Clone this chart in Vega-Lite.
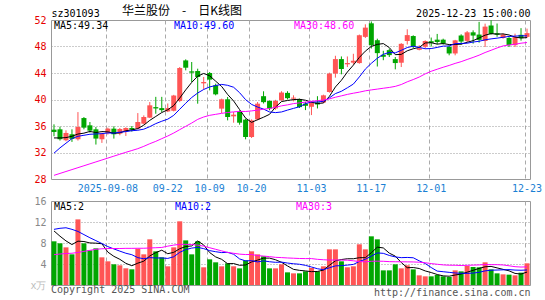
{
"$schema": "https://vega.github.io/schema/vega-lite/v6.json",
"background": "white",
"padding": {"left": 29, "top": 4, "right": 0, "bottom": 0},
"spacing": 1,
"config": {"view": {"stroke": "#999999", "strokeWidth": 1}, "font": "DejaVu Sans Mono"},
"resolve": {"scale": {"color": "independent"}, "legend": {"color": "independent"}},
"datasets": {"k": [
{"d":"2025-08-26","o":35.45,"h":36.25,"l":34.45,"c":35.1,"v":8.32,"m5":34.2,"m10":31.9,"m30":28.55,"vm5":10.3,"vm10":10.6,"vm30":5.78},
{"d":"2025-08-27","o":35.5,"h":35.9,"l":33.8,"c":34.0,"v":7.94,"m5":34.2,"m10":32.7,"m30":28.84,"vm5":9.3,"vm10":10.8,"vm30":5.9},
{"d":"2025-08-28","o":33.85,"h":35.35,"l":33.7,"c":34.95,"v":7.17,"m5":34.25,"m10":33.4,"m30":29.13,"vm5":8.4,"vm10":10.9,"vm30":6.0},
{"d":"2025-08-29","o":34.75,"h":35.5,"l":33.6,"c":34.05,"v":5.84,"m5":34.45,"m10":34.1,"m30":29.42,"vm5":7.7,"vm10":10.6,"vm30":6.05},
{"d":"2025-09-01","o":34.0,"h":38.1,"l":33.8,"c":35.85,"v":12.5,"m5":34.79,"m10":34.45,"m30":29.71,"vm5":8.35,"vm10":10.2,"vm30":6.2},
{"d":"2025-09-02","o":37.2,"h":37.35,"l":35.5,"c":35.75,"v":7.94,"m5":34.92,"m10":34.6,"m30":30.0,"vm5":8.28,"vm10":9.6,"vm30":6.4},
{"d":"2025-09-03","o":36.1,"h":36.6,"l":35.0,"c":35.3,"v":6.6,"m5":35.18,"m10":34.75,"m30":30.29,"vm5":8.01,"vm10":9.0,"vm30":6.6},
{"d":"2025-09-04","o":35.5,"h":35.85,"l":33.2,"c":34.1,"v":6.98,"m5":35.01,"m10":34.8,"m30":30.58,"vm5":7.97,"vm10":8.45,"vm30":6.8},
{"d":"2025-09-05","o":34.0,"h":35.0,"l":33.45,"c":34.8,"v":5.27,"m5":35.16,"m10":34.85,"m30":30.87,"vm5":7.86,"vm10":7.9,"vm30":6.9},
{"d":"2025-09-08","o":34.95,"h":35.75,"l":34.7,"c":35.6,"v":4.51,"m5":35.11,"m10":34.95,"m30":31.16,"vm5":6.26,"vm10":7.31,"vm30":6.95},
{"d":"2025-09-09","o":35.6,"h":35.95,"l":34.1,"c":34.75,"v":3.94,"m5":34.91,"m10":34.92,"m30":31.45,"vm5":5.46,"vm10":6.87,"vm30":6.95},
{"d":"2025-09-10","o":34.85,"h":35.7,"l":34.6,"c":35.55,"v":3.75,"m5":34.96,"m10":35.07,"m30":31.74,"vm5":4.89,"vm10":6.45,"vm30":6.95},
{"d":"2025-09-11","o":35.2,"h":35.8,"l":34.5,"c":35.7,"v":3.18,"m5":35.28,"m10":35.15,"m30":32.03,"vm5":4.13,"vm10":6.05,"vm30":6.98},
{"d":"2025-09-12","o":35.7,"h":36.0,"l":35.15,"c":35.45,"v":2.99,"m5":35.41,"m10":35.29,"m30":32.3,"vm5":3.67,"vm10":5.77,"vm30":6.98},
{"d":"2025-09-15","o":35.6,"h":37.95,"l":35.5,"c":36.6,"v":6.92,"m5":35.61,"m10":35.36,"m30":32.58,"vm5":4.16,"vm10":5.21,"vm30":7.0},
{"d":"2025-09-16","o":36.35,"h":37.6,"l":36.25,"c":37.36,"v":5.84,"m5":36.13,"m10":35.52,"m30":32.93,"vm5":4.54,"vm10":5.0,"vm30":7.0},
{"d":"2025-09-17","o":37.26,"h":39.62,"l":37.2,"c":39.12,"v":8.7,"m5":36.85,"m10":35.9,"m30":33.33,"vm5":5.53,"vm10":5.21,"vm30":7.05},
{"d":"2025-09-18","o":38.85,"h":40.4,"l":37.85,"c":38.65,"v":6.41,"m5":37.44,"m10":36.36,"m30":33.68,"vm5":6.17,"vm10":5.15,"vm30":7.1},
{"d":"2025-09-19","o":38.7,"h":40.4,"l":38.1,"c":38.4,"v":5.27,"m5":38.03,"m10":36.72,"m30":34.09,"vm5":6.63,"vm10":5.15,"vm30":7.15},
{"d":"2025-09-22","o":38.2,"h":39.4,"l":38.1,"c":38.7,"v":3.56,"m5":38.45,"m10":37.03,"m30":34.49,"vm5":5.96,"vm10":5.06,"vm30":7.4},
{"d":"2025-09-23","o":38.3,"h":40.7,"l":38.2,"c":40.6,"v":7.17,"m5":39.09,"m10":37.61,"m30":34.94,"vm5":6.22,"vm10":5.38,"vm30":7.6},
{"d":"2025-09-24","o":39.77,"h":44.9,"l":39.6,"c":44.75,"v":12.13,"m5":40.22,"m10":38.53,"m30":35.45,"vm5":6.91,"vm10":6.22,"vm30":7.75},
{"d":"2025-09-25","o":45.9,"h":46.06,"l":44.4,"c":44.8,"v":8.5,"m5":41.45,"m10":39.44,"m30":35.95,"vm5":7.33,"vm10":6.75,"vm30":7.75},
{"d":"2025-09-26","o":44.25,"h":45.66,"l":42.64,"c":44.05,"v":5.84,"m5":42.58,"m10":40.3,"m30":36.45,"vm5":7.44,"vm10":7.03,"vm30":7.7},
{"d":"2025-09-29","o":44.3,"h":44.65,"l":39.37,"c":43.4,"v":8.32,"m5":43.52,"m10":40.98,"m30":37.0,"vm5":8.39,"vm10":7.17,"vm30":7.6},
{"d":"2025-09-30","o":42.44,"h":43.4,"l":41.53,"c":42.64,"v":3.37,"m5":43.93,"m10":41.51,"m30":37.36,"vm5":7.63,"vm10":6.93,"vm30":7.4},
{"d":"2025-10-09","o":44.0,"h":44.15,"l":41.38,"c":43.0,"v":4.89,"m5":43.58,"m10":41.9,"m30":37.61,"vm5":6.18,"vm10":6.55,"vm30":7.1},
{"d":"2025-10-10","o":42.14,"h":42.39,"l":40.63,"c":40.78,"v":4.32,"m5":42.77,"m10":42.11,"m30":37.76,"vm5":5.35,"vm10":6.34,"vm30":6.8},
{"d":"2025-10-13","o":38.62,"h":40.13,"l":37.96,"c":40.03,"v":3.56,"m5":41.97,"m10":42.28,"m30":37.91,"vm5":4.89,"vm10":6.17,"vm30":6.5},
{"d":"2025-10-14","o":40.03,"h":40.38,"l":36.85,"c":37.36,"v":4.13,"m5":40.76,"m10":42.14,"m30":38.04,"vm5":4.05,"vm10":6.22,"vm30":6.2},
{"d":"2025-10-15","o":37.46,"h":38.11,"l":36.5,"c":37.71,"v":3.56,"m5":39.78,"m10":41.85,"m30":38.13,"vm5":4.09,"vm10":5.86,"vm30":6.04},
{"d":"2025-10-16","o":38.21,"h":38.36,"l":36.2,"c":36.5,"v":3.17,"m5":38.48,"m10":41.03,"m30":38.21,"vm5":3.75,"vm10":4.97,"vm30":5.88},
{"d":"2025-10-17","o":36.96,"h":37.11,"l":33.99,"c":34.34,"v":4.7,"m5":37.19,"m10":39.98,"m30":38.19,"vm5":3.82,"vm10":4.59,"vm30":5.8},
{"d":"2025-10-20","o":34.34,"h":37.0,"l":34.19,"c":36.85,"v":6.41,"m5":36.55,"m10":39.26,"m30":38.28,"vm5":4.39,"vm10":4.64,"vm30":5.81},
{"d":"2025-10-21","o":37.0,"h":39.62,"l":36.86,"c":39.37,"v":5.84,"m5":36.95,"m10":38.86,"m30":38.4,"vm5":4.74,"vm10":4.4,"vm30":5.59},
{"d":"2025-10-22","o":40.5,"h":41.24,"l":39.4,"c":39.6,"v":5.46,"m5":37.33,"m10":38.55,"m30":38.53,"vm5":5.12,"vm10":4.6,"vm30":5.51},
{"d":"2025-10-23","o":39.77,"h":39.87,"l":38.37,"c":38.65,"v":3.17,"m5":37.76,"m10":38.12,"m30":38.64,"vm5":5.12,"vm10":4.43,"vm30":5.4},
{"d":"2025-10-24","o":38.65,"h":39.95,"l":38.45,"c":39.77,"v":3.17,"m5":38.85,"m10":38.02,"m30":38.83,"vm5":4.81,"vm10":4.32,"vm30":5.27},
{"d":"2025-10-27","o":39.9,"h":41.25,"l":39.8,"c":41.05,"v":3.94,"m5":39.69,"m10":38.12,"m30":39.04,"vm5":4.32,"vm10":4.36,"vm30":5.22},
{"d":"2025-10-28","o":41.0,"h":41.25,"l":40.0,"c":40.2,"v":2.41,"m5":39.85,"m10":38.4,"m30":39.19,"vm5":3.63,"vm10":4.18,"vm30":5.15},
{"d":"2025-10-29","o":40.13,"h":40.63,"l":39.72,"c":40.28,"v":2.22,"m5":39.99,"m10":38.66,"m30":39.38,"vm5":2.98,"vm10":4.05,"vm30":5.1},
{"d":"2025-10-30","o":40.05,"h":40.13,"l":38.72,"c":38.85,"v":2.22,"m5":40.03,"m10":38.9,"m30":39.49,"vm5":2.79,"vm10":3.95,"vm30":5.05},
{"d":"2025-10-31","o":39.37,"h":39.65,"l":38.4,"c":39.05,"v":2.6,"m5":39.89,"m10":39.37,"m30":39.6,"vm5":2.68,"vm10":3.74,"vm30":5.03},
{"d":"2025-11-03","o":38.9,"h":39.72,"l":37.65,"c":39.55,"v":3.24,"m5":39.59,"m10":39.64,"m30":39.73,"vm5":2.54,"vm10":3.43,"vm30":5.03},
{"d":"2025-11-04","o":39.55,"h":40.5,"l":38.65,"c":39.25,"v":2.6,"m5":39.4,"m10":39.63,"m30":39.82,"vm5":2.58,"vm10":3.1,"vm30":4.89},
{"d":"2025-11-05","o":39.55,"h":40.73,"l":39.45,"c":40.63,"v":3.56,"m5":39.47,"m10":39.73,"m30":39.93,"vm5":2.84,"vm10":2.91,"vm30":4.81},
{"d":"2025-11-06","o":41.13,"h":44.05,"l":41.03,"c":43.9,"v":6.79,"m5":40.48,"m10":40.25,"m30":40.09,"vm5":3.76,"vm10":3.28,"vm30":4.75},
{"d":"2025-11-07","o":43.92,"h":46.6,"l":43.3,"c":46.1,"v":6.79,"m5":41.89,"m10":40.89,"m30":40.34,"vm5":4.6,"vm10":3.64,"vm30":4.76},
{"d":"2025-11-10","o":46.1,"h":46.5,"l":43.8,"c":44.6,"v":4.51,"m5":42.9,"m10":41.24,"m30":40.55,"vm5":4.85,"vm10":3.69,"vm30":4.74},
{"d":"2025-11-11","o":45.31,"h":46.5,"l":44.9,"c":45.51,"v":3.37,"m5":44.15,"m10":41.77,"m30":40.77,"vm5":5.0,"vm10":3.79,"vm30":4.73},
{"d":"2025-11-12","o":45.56,"h":46.9,"l":45.3,"c":45.85,"v":3.56,"m5":45.19,"m10":42.33,"m30":40.95,"vm5":5.0,"vm10":3.92,"vm30":4.61},
{"d":"2025-11-13","o":45.5,"h":49.8,"l":45.4,"c":49.7,"v":7.75,"m5":46.35,"m10":43.41,"m30":41.11,"vm5":5.2,"vm10":4.48,"vm30":4.47},
{"d":"2025-11-14","o":49.45,"h":51.35,"l":49.28,"c":50.85,"v":6.79,"m5":47.3,"m10":44.59,"m30":41.31,"vm5":5.2,"vm10":4.9,"vm30":4.41},
{"d":"2025-11-17","o":51.5,"h":51.78,"l":47.7,"c":48.2,"v":9.27,"m5":48.02,"m10":45.46,"m30":41.45,"vm5":6.15,"vm10":5.5,"vm30":4.52},
{"d":"2025-11-18","o":48.95,"h":49.18,"l":44.98,"c":47.0,"v":8.7,"m5":48.32,"m10":46.23,"m30":41.57,"vm5":7.21,"vm10":6.11,"vm30":4.54},
{"d":"2025-11-19","o":46.75,"h":47.35,"l":45.93,"c":46.45,"v":2.79,"m5":48.44,"m10":46.82,"m30":41.7,"vm5":7.06,"vm10":6.03,"vm30":4.52},
{"d":"2025-11-20","o":47.45,"h":47.67,"l":46.41,"c":46.7,"v":2.79,"m5":47.84,"m10":47.1,"m30":41.82,"vm5":6.07,"vm10":5.63,"vm30":4.45},
{"d":"2025-11-21","o":46.1,"h":46.41,"l":44.55,"c":45.5,"v":3.94,"m5":46.77,"m10":47.04,"m30":41.98,"vm5":5.5,"vm10":5.35,"vm30":4.43},
{"d":"2025-11-24","o":45.55,"h":48.5,"l":44.9,"c":48.4,"v":3.17,"m5":46.81,"m10":47.42,"m30":42.26,"vm5":4.28,"vm10":5.21,"vm30":4.42},
{"d":"2025-11-25","o":48.83,"h":50.6,"l":48.3,"c":49.72,"v":3.75,"m5":47.35,"m10":47.84,"m30":42.67,"vm5":3.29,"vm10":5.25,"vm30":4.41},
{"d":"2025-11-26","o":49.58,"h":49.69,"l":47.77,"c":48.0,"v":2.98,"m5":47.66,"m10":48.05,"m30":43.01,"vm5":3.33,"vm10":5.19,"vm30":4.39},
{"d":"2025-11-27","o":47.5,"h":48.18,"l":47.42,"c":47.75,"v":1.84,"m5":47.87,"m10":47.86,"m30":43.39,"vm5":3.14,"vm10":4.6,"vm30":4.34},
{"d":"2025-11-28","o":47.97,"h":48.93,"l":47.67,"c":48.83,"v":1.65,"m5":48.54,"m10":47.66,"m30":43.87,"vm5":2.68,"vm10":4.09,"vm30":4.24},
{"d":"2025-12-01","o":48.8,"h":49.35,"l":48.0,"c":48.55,"v":1.65,"m5":48.57,"m10":47.69,"m30":44.26,"vm5":2.37,"vm10":3.33,"vm30":4.08},
{"d":"2025-12-02","o":49.03,"h":49.9,"l":48.33,"c":48.68,"v":1.9,"m5":48.36,"m10":47.86,"m30":44.57,"vm5":2.0,"vm10":2.65,"vm30":3.95},
{"d":"2025-12-03","o":49.03,"h":49.18,"l":48.28,"c":48.45,"v":1.65,"m5":48.45,"m10":48.06,"m30":44.87,"vm5":1.74,"vm10":2.53,"vm30":3.83},
{"d":"2025-12-04","o":47.95,"h":48.18,"l":46.67,"c":46.95,"v":1.52,"m5":48.29,"m10":48.08,"m30":45.14,"vm5":1.67,"vm10":2.41,"vm30":3.77},
{"d":"2025-12-05","o":46.95,"h":49.0,"l":46.67,"c":48.93,"v":2.79,"m5":48.31,"m10":48.43,"m30":45.45,"vm5":1.9,"vm10":2.29,"vm30":3.76},
{"d":"2025-12-08","o":49.66,"h":49.84,"l":48.28,"c":48.75,"v":2.6,"m5":48.35,"m10":48.46,"m30":45.71,"vm5":2.09,"vm10":2.23,"vm30":3.71},
{"d":"2025-12-09","o":48.85,"h":50.34,"l":48.68,"c":50.14,"v":3.62,"m5":48.64,"m10":48.5,"m30":46.04,"vm5":2.44,"vm10":2.22,"vm30":3.75},
{"d":"2025-12-10","o":50.14,"h":50.44,"l":48.43,"c":49.65,"v":3.43,"m5":48.88,"m10":48.67,"m30":46.35,"vm5":2.79,"vm10":2.27,"vm30":3.79},
{"d":"2025-12-11","o":49.8,"h":51.72,"l":48.58,"c":49.0,"v":3.37,"m5":49.29,"m10":48.79,"m30":46.69,"vm5":3.16,"vm10":2.42,"vm30":3.83},
{"d":"2025-12-12","o":48.83,"h":51.45,"l":47.92,"c":51.0,"v":4.32,"m5":49.71,"m10":49.01,"m30":47.09,"vm5":3.47,"vm10":2.69,"vm30":3.89},
{"d":"2025-12-15","o":51.17,"h":51.95,"l":49.79,"c":49.9,"v":2.98,"m5":49.94,"m10":49.15,"m30":47.43,"vm5":3.54,"vm10":2.82,"vm30":3.88},
{"d":"2025-12-16","o":50.0,"h":51.47,"l":49.46,"c":49.78,"v":2.22,"m5":49.87,"m10":49.26,"m30":47.78,"vm5":3.26,"vm10":2.85,"vm30":3.87},
{"d":"2025-12-17","o":49.28,"h":49.97,"l":49.18,"c":49.8,"v":2.03,"m5":49.9,"m10":49.39,"m30":48.09,"vm5":2.98,"vm10":2.89,"vm30":3.82},
{"d":"2025-12-18","o":49.28,"h":49.43,"l":47.92,"c":48.2,"v":1.97,"m5":49.74,"m10":49.52,"m30":48.23,"vm5":2.7,"vm10":2.93,"vm30":3.66},
{"d":"2025-12-19","o":48.2,"h":49.94,"l":47.92,"c":49.43,"v":1.84,"m5":49.42,"m10":49.57,"m30":48.34,"vm5":2.21,"vm10":2.84,"vm30":3.49},
{"d":"2025-12-22","o":49.76,"h":50.77,"l":48.88,"c":49.26,"v":2.35,"m5":49.29,"m10":49.62,"m30":48.5,"vm5":2.08,"vm10":2.81,"vm30":3.42},
{"d":"2025-12-23","o":49.45,"h":50.7,"l":49.28,"c":50.02,"v":4.13,"m5":49.34,"m10":49.6,"m30":48.6,"vm5":2.46,"vm10":2.86,"vm30":3.45}
]},
"vconcat": [
{
"width": 479, "height": 159,
"title": {"text": "华兰股份　-　日K线图", "anchor": "start", "frame": "group", "dx": 71, "dy": 12, "font": "Noto Sans CJK SC", "fontSize": 12, "fontWeight": "normal", "color": "#000000", "offset": 2},
"data": {"name": "k"},
"encoding": {"x": {"field": "d", "type": "ordinal", "scale": {"paddingInner": 0, "paddingOuter": 0},
  "axis": {"values": ["2025-09-08","2025-09-22","2025-10-09","2025-10-20","2025-11-03","2025-11-17","2025-12-01","2025-12-23"],
   "labelExpr": "datum.value == '2025-09-08' ? datum.value : slice(datum.value, 5)",
   "labelAngle": 0, "labelColor": "#1a7fd4", "labelFont": "DejaVu Sans Mono", "labelFontSize": 10, "labelPadding": 4, "labelOverlap": false,
   "ticks": false, "domain": false, "grid": true, "gridDash": [4, 3], "gridColor": "#aaaaaa", "bandPosition": 0.2,
   "title": "2025-12-23 15:00:00", "titleX": 479, "titleY": -166, "titleAlign": "right", "titleBaseline": "middle", "titleAnchor": null,
   "titleFont": "DejaVu Sans Mono", "titleFontSize": 10, "titleFontWeight": "normal", "titleColor": "#000000"}}},
"layer": [
 {"mark": {"type": "rule", "strokeWidth": 1},
  "encoding": {
   "y": {"field": "l", "type": "quantitative", "scale": {"domain": [28, 52], "nice": false, "zero": false},
    "axis": {"values": [28,32,36,40,44,48,52], "tickCount": 7, "labelOverlap": false, "labelColor": "#e60000", "labelFont": "DejaVu Sans Mono", "labelFontSize": 10, "labelPadding": 5,
     "ticks": false, "domain": false, "grid": true, "gridDash": [1, 2], "gridColor": "#999999",
     "gridOpacity": {"condition": {"test": "datum.value == 28 || datum.value == 52", "value": 0}, "value": 1},
     "title": "sz301093", "titleAngle": 0, "titleX": 0, "titleY": -7, "titleAlign": "left", "titleBaseline": "middle",
     "titleFont": "DejaVu Sans Mono", "titleFontSize": 10, "titleFontWeight": "normal", "titleColor": "#000000"}},
   "y2": {"field": "h"},
   "color": {"condition": {"test": "datum.c >= datum.o", "value": "#ff5555"}, "value": "#00a600"}}},
 {"mark": {"type": "bar", "size": 5},
  "encoding": {
   "y": {"field": "o", "type": "quantitative"},
   "y2": {"field": "c"},
   "color": {"condition": {"test": "datum.c >= datum.o", "value": "#ff5555"}, "value": "#00a600"}}},
 {"transform": [{"fold": ["m5", "m10", "m30"], "as": ["key", "val"]}],
  "mark": {"type": "line", "strokeWidth": 1},
  "encoding": {
   "y": {"field": "val", "type": "quantitative"},
   "color": {"field": "key", "type": "nominal", "scale": {"domain": ["m5", "m10", "m30"], "range": ["#000000", "#0000ff", "#ff00ff"]},
    "legend": {"orient": "none", "legendX": -7, "legendY": 0.7, "direction": "horizontal", "title": null, "padding": 0,
     "labelExpr": "datum.value == 'm5' ? 'MA5:49.34' : datum.value == 'm10' ? 'MA10:49.60' : 'MA30:48.60'",
     "labelFont": "DejaVu Sans Mono", "labelFontSize": 10, "labelOffset": 0, "labelBaseline": "middle",
     "labelColor": {"expr": "datum.value == 'm5' ? '#000000' : datum.value == 'm10' ? '#0000ff' : '#ff00ff'"},
     "symbolType": "square", "symbolSize": 1, "symbolOpacity": 0, "symbolStrokeWidth": 0, "columnPadding": 49, "gridAlign": "all"}}}}
]
},
{
"width": 479, "height": 84,
"title": {"text": "Copyright 2025 SINA.COM", "orient": "bottom", "anchor": "start", "frame": "group", "font": "DejaVu Sans Mono", "fontSize": 10, "fontWeight": "normal", "color": "#555555", "offset": 0, "dy": -12},
"data": {"name": "k"},
"encoding": {"x": {"field": "d", "type": "ordinal", "scale": {"paddingInner": 0, "paddingOuter": 0},
  "axis": {"values": ["2025-09-08","2025-09-22","2025-10-09","2025-10-20","2025-11-03","2025-11-17","2025-12-01","2025-12-23"],
   "labels": false, "ticks": false, "domain": false, "grid": true, "gridDash": [4, 3], "gridColor": "#aaaaaa", "bandPosition": 0.2,
   "title": "http://finance.sina.com.cn", "titleAnchor": "end", "titleFont": "DejaVu Sans Mono", "titleFontSize": 10, "titleFontWeight": "normal", "titleColor": "#555555", "titlePadding": 2}}},
"layer": [
 {"mark": {"type": "bar", "size": 5},
  "encoding": {
   "y": {"field": "v", "type": "quantitative", "scale": {"domain": [0, 16], "nice": false},
    "axis": {"values": [0,4,8,12,16], "tickCount": 5, "labelOverlap": false, "labelExpr": "datum.value == 0 ? 'x万' : datum.label",
     "labelColor": {"condition": {"test": "datum.value == 0", "value": "#bbbbbb"}, "value": "#888888"},
     "labelFont": "DejaVu Sans Mono", "labelFontSize": 10, "labelPadding": 5,
     "ticks": false, "domain": false, "grid": true, "gridDash": [1, 2], "gridColor": "#999999",
     "gridOpacity": {"condition": {"test": "datum.value == 0 || datum.value == 16", "value": 0}, "value": 1},
     "title": null}},
   "color": {"condition": {"test": "datum.c >= datum.o", "value": "#ff5555"}, "value": "#00a600"}}},
 {"transform": [{"fold": ["vm5", "vm10", "vm30"], "as": ["key", "val"]}],
  "mark": {"type": "line", "strokeWidth": 1},
  "encoding": {
   "y": {"field": "val", "type": "quantitative"},
   "color": {"field": "key", "type": "nominal", "scale": {"domain": ["vm5", "vm10", "vm30"], "range": ["#000000", "#0000ff", "#ff00ff"]},
    "legend": {"orient": "none", "legendX": -7, "legendY": 1.3, "direction": "horizontal", "title": null, "padding": 0,
     "labelExpr": "datum.value == 'vm5' ? 'MA5:2' : datum.value == 'vm10' ? 'MA10:2' : 'MA30:3'",
     "labelFont": "DejaVu Sans Mono", "labelFontSize": 10, "labelOffset": 0, "labelBaseline": "middle",
     "labelColor": {"expr": "datum.value == 'vm5' ? '#000000' : datum.value == 'vm10' ? '#0000ff' : '#ff00ff'"},
     "symbolType": "square", "symbolSize": 1, "symbolOpacity": 0, "symbolStrokeWidth": 0, "columnPadding": 74, "gridAlign": "all"}}}}
]
}
]
}
